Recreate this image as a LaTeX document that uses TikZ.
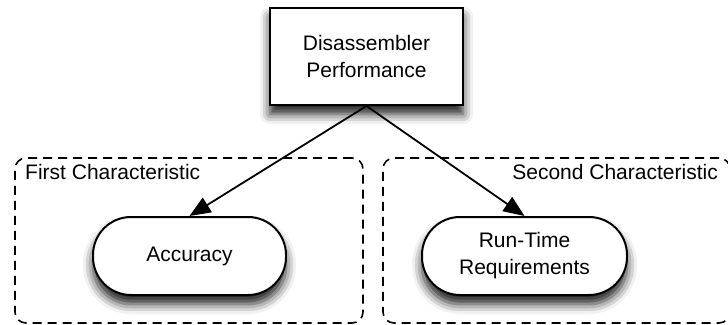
\documentclass[tikz,border=0pt]{standalone}
\usepackage{fontspec}
\setmainfont{Liberation Sans}
\usetikzlibrary{arrows.meta,shadows.blur}

\tikzset{
  txt/.style={font=\fontsize{21}{27}\selectfont, align=center, inner sep=0pt},
  softshadow/.style={blur shadow={shadow xshift=0pt, shadow yshift=-9pt,
      shadow blur radius=10pt, shadow opacity=90}},
  mainbox/.style={draw, line width=2pt, fill=white, softshadow,
      minimum width=193pt, minimum height=97pt, txt},
  pill/.style={draw, line width=2pt, fill=white, softshadow,
      rounded corners=38pt, minimum height=78pt, txt},
  group/.style={draw, line width=1.6pt, rounded corners=11pt,
      dash pattern=on 9pt off 6pt, inner sep=0pt},
  link/.style={line width=1.8pt, -{Triangle[length=21pt,width=17pt]}},
}

\begin{document}
\begin{tikzpicture}[x=1pt, y=-1pt]
  \useasboundingbox (0,0) rectangle (728,324);

  % dashed characteristic groups
  \node[group, minimum width=348pt, minimum height=165pt] (g1) at (189,240.5) {};
  \node[group, minimum width=347pt, minimum height=165pt] (g2) at (556.5,240.5) {};
  \node[txt, anchor=west] (l1) at (25,172) {First Characteristic};
  \node[txt, anchor=east] (l2) at (718,172) {Second Characteristic};

  % nodes
  \node[mainbox] (perf) at (366.5,56.5) {Disassembler\\Performance};
  \node[pill, minimum width=193pt] (acc) at (189.5,256) {Accuracy};
  \node[pill, minimum width=205pt] (rt) at (524.5,256) {Run-Time\\Requirements};

  % connectors
  \draw[link] (perf.south) -- (acc.north);
  \draw[link] (perf.south) -- (rt.north);
\end{tikzpicture}
\end{document}
